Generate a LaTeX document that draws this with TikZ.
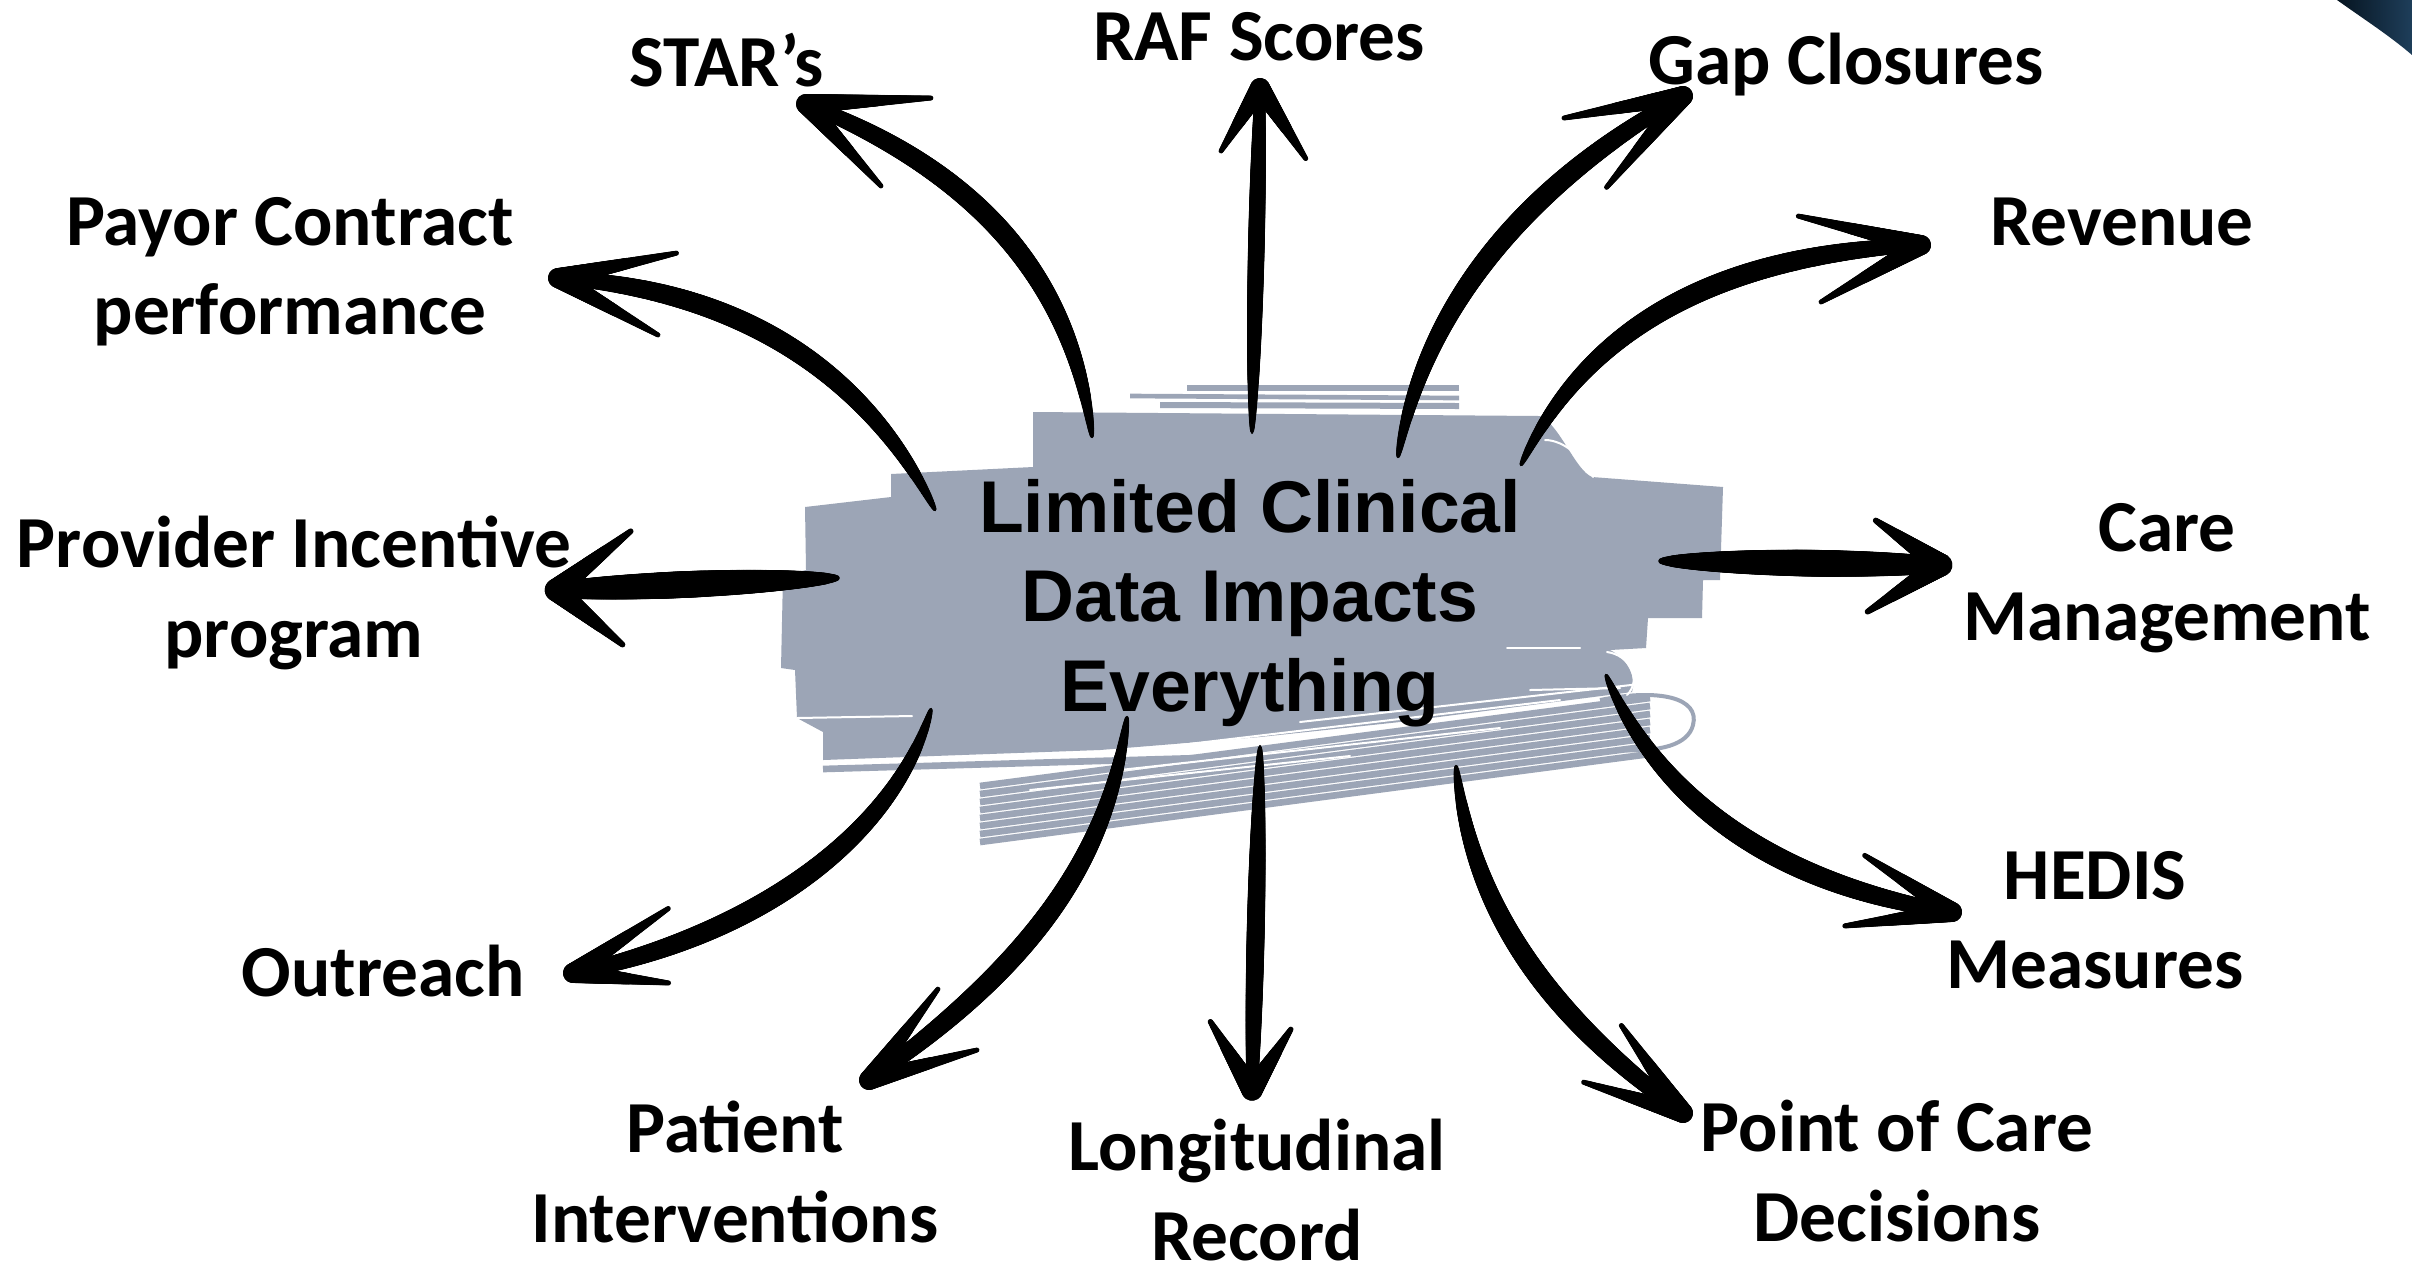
\documentclass[tikz,border=0pt]{standalone}
\usepackage{fontspec}
\setmainfont{Carlito}
\newfontfamily\centerfont{Liberation Sans}
\usetikzlibrary{decorations.markings}
\definecolor{blobc}{RGB}{156,165,182}
\definecolor{navyA}{RGB}{6,20,32}
\definecolor{navyB}{RGB}{30,62,90}
\tikzset{
 brush/.style={postaction={decorate,decoration={markings,
   mark=between positions 0 and 1 step 0.35pt with {%
     \pgfmathsetmacro\brT{\pgfkeysvalueof{/pgf/decoration/mark info/distance from start}/\pgfdecoratedpathlength}%
     \pgfmathsetmacro\brR{#1*(0.12+0.88*sqrt(max(0,sin(162*\brT))))}%
     \fill[black] (0,0) circle (\brR pt);}}}},
 barb/.style={postaction={decorate,decoration={markings,
   mark=between positions 0 and 1 step 0.3pt with {%
     \pgfmathsetmacro\brT{\pgfkeysvalueof{/pgf/decoration/mark info/distance from start}/\pgfdecoratedpathlength}%
     \pgfmathsetmacro\brR{#1*(1-0.75*\brT)}%
     \fill[black] (0,0) circle (\brR pt);}}}},
 lab/.style={font=\bfseries\fontsize{22}{26.8}\selectfont, align=center, text=black, inner sep=0pt},
 ctr/.style={font=\centerfont\bfseries\fontsize{22}{26.8}\selectfont, align=center, text=black, inner sep=0pt},
 streak/.style={white, line width=0.6pt, line cap=round},
 gstroke/.style={blobc, line width=2pt},
}
\begin{document}
\begin{tikzpicture}[x=0.3pt,y=-0.3pt]
\useasboundingbox (0,0) rectangle (2412,1272);
\fill[white] (0,0) rectangle (2412,1272);
% corner shape
\shade[left color=navyA, right color=navyB] (2337,0) .. controls (2365,20) and (2390,36) .. (2412,55) -- (2412,0) -- cycle;

% ---- central blob ----
\draw[blobc, line width=1.6pt] (1187,388) -- (1459,388);
\draw[blobc, line width=1.4pt] (1130,396) -- (1459,398);
\draw[blobc, line width=1.8pt] (1160,405) -- (1459,406);
\fill[blobc] (1033,412) -- (1540,416) .. controls (1560,425) and (1575,470) .. (1592,477)
  -- (1723,487) -- (1720,580) -- (1703,580) -- (1702,618) -- (1648,618) -- (1646,648)
  -- (1610,650) .. controls (1630,660) and (1636,680) .. (1632,692)
  -- (1400,722) -- (1260,737) -- (1100,750) -- (823,760) -- (823,732) -- (797,718)
  -- (795,670) -- (781,668) -- (783,575) -- (806,570) -- (805,507) -- (891,497)
  -- (891,474) -- (1033,467) -- cycle;
\draw[gstroke] (823,769) -- (1200,758);
\foreach \k in {0,...,7} \draw[gstroke] (980,{786+8*\k}) -- (1650,{698+8*\k});
\draw[blobc, line width=1.2pt] (1600,700) .. controls (1660,688) and (1700,698) .. (1693,725) .. controls (1688,745) and (1660,752) .. (1620,750);
\draw[streak] (797,718) -- (912,716);
\draw[streak] (1507,648) -- (1580,648);
\draw[streak] (1545,440) .. controls (1565,440) and (1585,460) .. (1593,477);
\draw[streak] (1607,652) .. controls (1630,655) and (1642,680) .. (1627,695);
\draw[streak] (1180,745) -- (1560,700);
\draw[streak] (1300,722) -- (1640,684);
\draw[streak] (1120,770) -- (1500,728);
\draw[streak] (1030,790) -- (1350,756);
\draw[streak] (1530,690) -- (1620,688);

\node[ctr] (C) at (1250,603) {Limited Clinical\\Data Impacts\\Everything};

% ---- coordinates ----
\coordinate (s1) at (1092,437);  \coordinate (t1) at (806,104);
\coordinate (s2) at (935,510);   \coordinate (t2) at (558,278);
\coordinate (s3) at (838,578);   \coordinate (t3) at (556,590);
\coordinate (s4) at (1252,433);  \coordinate (t4) at (1260,88);
\coordinate (s5) at (1398,457);  \coordinate (t5) at (1683,96);
\coordinate (s6) at (1521,465);  \coordinate (t6) at (1921,245);
\coordinate (s7) at (1660,561);  \coordinate (t7) at (1941,565);
\coordinate (s8) at (931,709);   \coordinate (t8) at (573,973);
\coordinate (s9) at (1127,717);  \coordinate (t9) at (869,1080);
\coordinate (s10) at (1260,746); \coordinate (t10) at (1252,1090);
\coordinate (s11) at (1456,766); \coordinate (t11) at (1683,1113);
\coordinate (s12) at (1606,675); \coordinate (t12) at (1952,912);

% ---- shafts ----
\path[brush=3.1] (s1) .. controls (1075,300) and (1000,180) .. (t1);
\path[brush=3.1] (s2) .. controls (870,380) and (750,290) .. (t2);
\path[brush=4.0] (s3) -- (t3);
\path[brush=2.5] (s4) -- (t4);
\path[brush=3.1] (s5) .. controls (1420,330) and (1500,200) .. (t5);
\path[brush=3.1] (s6) .. controls (1580,340) and (1700,255) .. (t6);
\path[brush=4.0] (s7) -- (t7);
\path[brush=3.1] (s8) .. controls (900,820) and (780,930) .. (t8);
\path[brush=3.1] (s9) .. controls (1110,850) and (1040,960) .. (t9);
\path[brush=2.7] (s10) -- (t10);
\path[brush=3.1] (s11) .. controls (1470,900) and (1540,1010) .. (t11);
\path[brush=3.1] (s12) .. controls (1650,780) and (1750,880) .. (t12);

% ---- heads ----
\path[barb=3.0] (t1) -- (931,98);   \path[barb=3.0] (t1) -- (881,186);
\path[barb=3.0] (t2) -- (677,253);  \path[barb=3.0] (t2) -- (658,335);
\path[barb=3.4] (t3) -- (631,531);  \path[barb=3.4] (t3) -- (623,645);
\path[barb=3.0] (t4) -- (1221,151); \path[barb=3.0] (t4) -- (1306,159);
\path[barb=3.0] (t5) -- (1564,118); \path[barb=3.0] (t5) -- (1606,188);
\path[barb=3.0] (t6) -- (1798,216); \path[barb=3.0] (t6) -- (1821,302);
\path[barb=3.4] (t7) -- (1875,520); \path[barb=3.4] (t7) -- (1867,612);
\path[barb=3.0] (t8) -- (669,908);  \path[barb=3.0] (t8) -- (669,983);
\path[barb=3.0] (t9) -- (938,989);  \path[barb=3.0] (t9) -- (977,1050);
\path[barb=3.2] (t10) -- (1210,1021); \path[barb=3.2] (t10) -- (1291,1029);
\path[barb=3.0] (t11) -- (1621,1025); \path[barb=3.0] (t11) -- (1583,1082);
\path[barb=3.0] (t12) -- (1864,855); \path[barb=3.0] (t12) -- (1844,926);

% ---- labels ----
\node[lab] (L1) at (727,60) {STAR’s};
\node[lab] (L2) at (1259,37) {RAF Scores};
\node[lab] (L3) at (1846,65) {Gap Closures};
\node[lab] (L4) at (290,272) {Payor Contract\\performance};
\node[lab] (L5) at (2122,222) {Revenue};
\node[lab] (L6) at (294,593) {Provider Incentive\\program};
\node[lab] (L7) at (2167,578) {Care\\Management};
\node[lab] (L8) at (2095,920) {HEDIS\\Measures};
\node[lab] (L9) at (383,971) {Outreach};
\node[lab] (L10) at (735,1172) {Patient\\Interventions};
\node[lab] (L11) at (1257,1190) {Longitudinal\\Record};
\node[lab] (L12) at (1897,1171) {Point of Care\\Decisions};
\end{tikzpicture}
\end{document}
